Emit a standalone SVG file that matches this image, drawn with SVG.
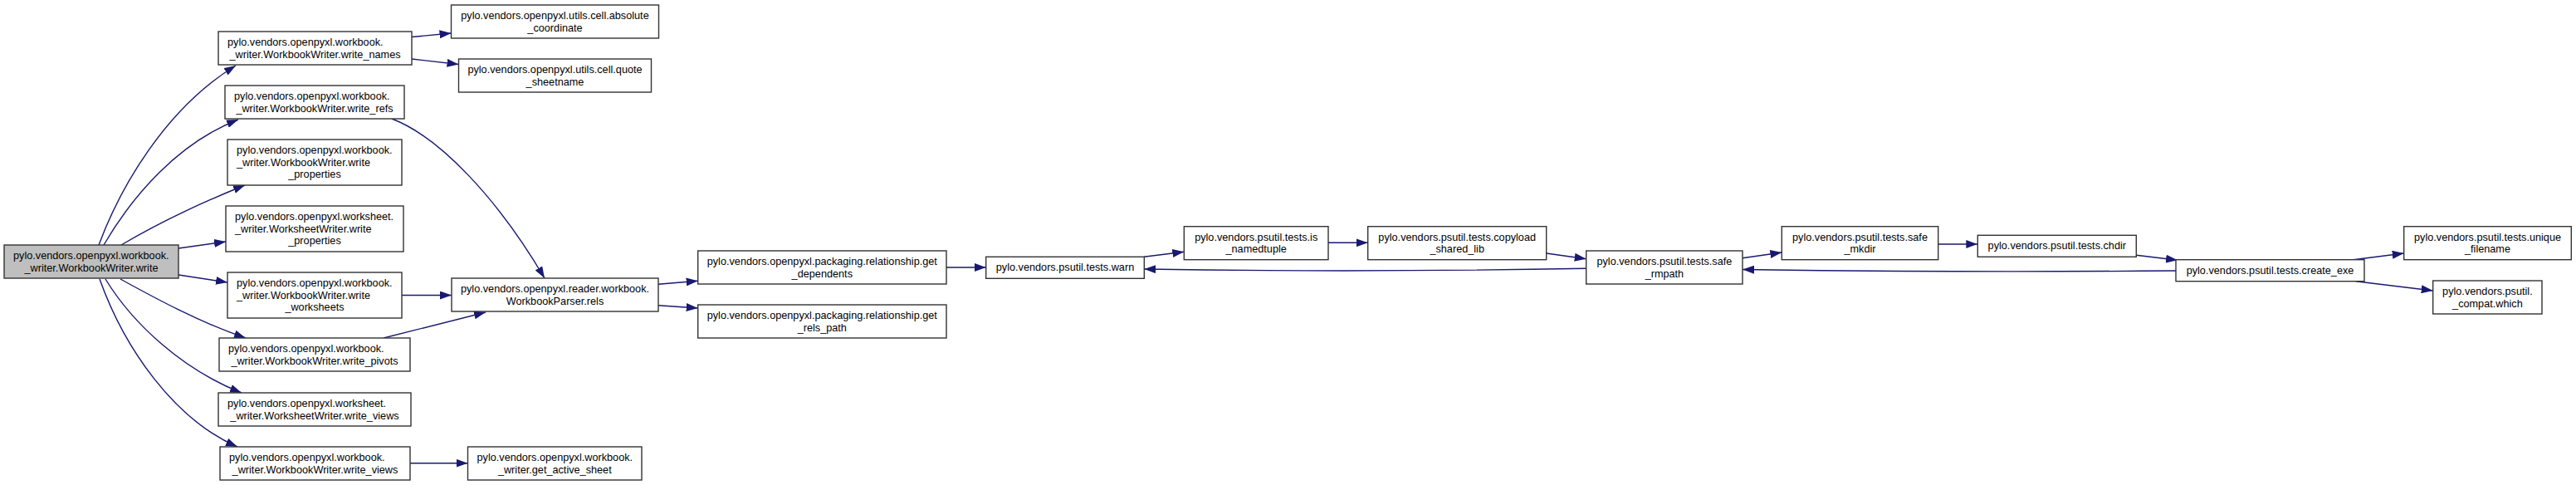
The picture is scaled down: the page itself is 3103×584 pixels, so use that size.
<svg xmlns="http://www.w3.org/2000/svg" width="3103" height="584" viewBox="0 0 3103 584">
<defs>
<marker id="ah" markerUnits="userSpaceOnUse" markerWidth="14" markerHeight="10" refX="14" refY="5" orient="auto"><path d="M0,0 L14,5 L0,10 Z" fill="#191970"/></marker>
<style>
.n rect{fill:#fff;stroke:#333;stroke-width:1.4}
.n.root rect{fill:#bfbfbf}
.n text{font-family:"Liberation Sans",Arial,sans-serif;font-size:12.7px;fill:#000}
.m{text-anchor:middle}
.s{text-anchor:start}
#edges path{fill:none;stroke:#191970;stroke-width:1.4;marker-end:url(#ah)}
</style>
</defs>
<rect width="3103" height="584" fill="#fff"/>
<g id="edges">
<path d="M119,295 C145,225 200,130 284,79"/>
<path d="M125,295 C160,235 215,172 287,144"/>
<path d="M146,295 C185,272 240,245 295,223"/>
<path d="M215,299 L272,291"/>
<path d="M215,331 L274,340"/>
<path d="M145,336 C185,358 240,388 296,407"/>
<path d="M127,336 C160,390 220,445 291,473"/>
<path d="M120,336 C150,420 210,505 286,538"/>
<path d="M496,44.5 L543.5,40"/>
<path d="M496,71 L552.5,77.5"/>
<path d="M472,143 C530,165 600,240 656,335"/>
<path d="M484,355.5 L544,355.5"/>
<path d="M462,407 L585,376"/>
<path d="M793,342.3 L840.7,338.3"/>
<path d="M793,367.7 L840.7,371"/>
<path d="M1140,322 L1187.7,322"/>
<path d="M1378,309.3 L1426.3,303.3"/>
<path d="M1600,292.3 L1647.7,292.3"/>
<path d="M1862.7,305 L1910.7,311.7"/>
<path d="M1910.7,323.3 C1700,327 1500,326 1378.3,324"/>
<path d="M2099,310.7 L2146.3,304"/>
<path d="M2334.7,294 L2382.3,294"/>
<path d="M2573.3,307.3 L2623,313.3"/>
<path d="M2621,326 C2400,328 2200,326 2099,324.5"/>
<path d="M2835,312.7 L2895.7,305"/>
<path d="M2838,338.7 L2930.7,350"/>
<path d="M493.5,557.7 L563.5,557.7"/>
</g>
<g id="main" class="n root"><rect x="5" y="295" width="210" height="40"/><text class="s" x="16" y="312.3">pylo.vendors.openpyxl.workbook.</text><text class="m" x="110" y="326.5">_writer.WorkbookWriter.write</text></g>
<g id="write_names" class="n"><rect x="263" y="38" width="233" height="40"/><text class="s" x="274" y="55.3">pylo.vendors.openpyxl.workbook.</text><text class="m" x="379.5" y="69.5">_writer.WorkbookWriter.write_names</text></g>
<g id="write_refs" class="n"><rect x="271" y="103" width="216" height="40"/><text class="s" x="282" y="120.3">pylo.vendors.openpyxl.workbook.</text><text class="m" x="379" y="134.5">_writer.WorkbookWriter.write_refs</text></g>
<g id="wb_write_properties" class="n"><rect x="274" y="168" width="210" height="55"/><text class="s" x="285" y="185">pylo.vendors.openpyxl.workbook.</text><text class="s" x="285" y="199.5">_writer.WorkbookWriter.write</text><text class="m" x="379" y="214">_properties</text></g>
<g id="ws_write_properties" class="n"><rect x="272" y="248" width="214" height="55"/><text class="s" x="283" y="265">pylo.vendors.openpyxl.worksheet.</text><text class="s" x="283" y="279.5">_writer.WorksheetWriter.write</text><text class="m" x="379" y="294">_properties</text></g>
<g id="write_worksheets" class="n"><rect x="274" y="328" width="210" height="55"/><text class="s" x="285" y="345">pylo.vendors.openpyxl.workbook.</text><text class="s" x="285" y="359.5">_writer.WorkbookWriter.write</text><text class="m" x="379" y="374">_worksheets</text></g>
<g id="write_pivots" class="n"><rect x="264" y="407" width="230" height="40"/><text class="s" x="275" y="424.3">pylo.vendors.openpyxl.workbook.</text><text class="m" x="379" y="438.5">_writer.WorkbookWriter.write_pivots</text></g>
<g id="ws_write_views" class="n"><rect x="263" y="473" width="232" height="40"/><text class="s" x="274" y="490.3">pylo.vendors.openpyxl.worksheet.</text><text class="m" x="379" y="504.5">_writer.WorksheetWriter.write_views</text></g>
<g id="wb_write_views" class="n"><rect x="265" y="538" width="229" height="40"/><text class="s" x="276" y="555.3">pylo.vendors.openpyxl.workbook.</text><text class="m" x="379.5" y="569.5">_writer.WorkbookWriter.write_views</text></g>
<g id="absolute_coordinate" class="n"><rect x="543.5" y="6" width="250" height="40"/><text class="m" x="668.5" y="23.3">pylo.vendors.openpyxl.utils.cell.absolute</text><text class="m" x="668.5" y="37.5">_coordinate</text></g>
<g id="quote_sheetname" class="n"><rect x="552.5" y="71" width="232" height="40"/><text class="m" x="668.5" y="88.3">pylo.vendors.openpyxl.utils.cell.quote</text><text class="m" x="668.5" y="102.5">_sheetname</text></g>
<g id="rels" class="n"><rect x="544" y="335" width="249" height="40"/><text class="m" x="668.5" y="352.3">pylo.vendors.openpyxl.reader.workbook.</text><text class="m" x="668.5" y="366.5">WorkbookParser.rels</text></g>
<g id="get_active_sheet" class="n"><rect x="563.5" y="538" width="209.5" height="40"/><text class="s" x="574.5" y="555.3">pylo.vendors.openpyxl.workbook.</text><text class="m" x="668.3" y="569.5">_writer.get_active_sheet</text></g>
<g id="get_dependents" class="n"><rect x="840.7" y="302" width="299.3" height="40"/><text class="m" x="990.3" y="319.3">pylo.vendors.openpyxl.packaging.relationship.get</text><text class="m" x="990.3" y="333.5">_dependents</text></g>
<g id="get_rels_path" class="n"><rect x="840.7" y="367" width="299.3" height="40"/><text class="m" x="990.3" y="384.3">pylo.vendors.openpyxl.packaging.relationship.get</text><text class="m" x="990.3" y="398.5">_rels_path</text></g>
<g id="warn" class="n"><rect x="1187.7" y="309.3" width="190.6" height="26"/><text class="m" x="1283" y="326.3">pylo.vendors.psutil.tests.warn</text></g>
<g id="is_namedtuple" class="n"><rect x="1426.3" y="272.7" width="173.7" height="40"/><text class="m" x="1513.2" y="290">pylo.vendors.psutil.tests.is</text><text class="m" x="1513.2" y="304.2">_namedtuple</text></g>
<g id="copyload_shared_lib" class="n"><rect x="1647.7" y="272.7" width="215" height="40"/><text class="m" x="1755.2" y="290">pylo.vendors.psutil.tests.copyload</text><text class="m" x="1755.2" y="304.2">_shared_lib</text></g>
<g id="safe_rmpath" class="n"><rect x="1910.7" y="302" width="188.3" height="40"/><text class="m" x="2004.9" y="319.3">pylo.vendors.psutil.tests.safe</text><text class="m" x="2004.9" y="333.5">_rmpath</text></g>
<g id="safe_mkdir" class="n"><rect x="2146.3" y="272.7" width="188.4" height="40"/><text class="m" x="2240.5" y="290">pylo.vendors.psutil.tests.safe</text><text class="m" x="2240.5" y="304.2">_mkdir</text></g>
<g id="chdir" class="n"><rect x="2382.3" y="283.3" width="191" height="26"/><text class="m" x="2477.8" y="300.3">pylo.vendors.psutil.tests.chdir</text></g>
<g id="create_exe" class="n"><rect x="2621" y="312.7" width="227" height="26"/><text class="m" x="2734.5" y="329.7">pylo.vendors.psutil.tests.create_exe</text></g>
<g id="unique_filename" class="n"><rect x="2895.7" y="272.7" width="201.6" height="40"/><text class="m" x="2996.5" y="290">pylo.vendors.psutil.tests.unique</text><text class="m" x="2996.5" y="304.2">_filename</text></g>
<g id="which" class="n"><rect x="2930.7" y="338" width="131.3" height="40"/><text class="m" x="2996.4" y="355.3">pylo.vendors.psutil.</text><text class="m" x="2996.4" y="369.5">_compat.which</text></g>
</svg>
